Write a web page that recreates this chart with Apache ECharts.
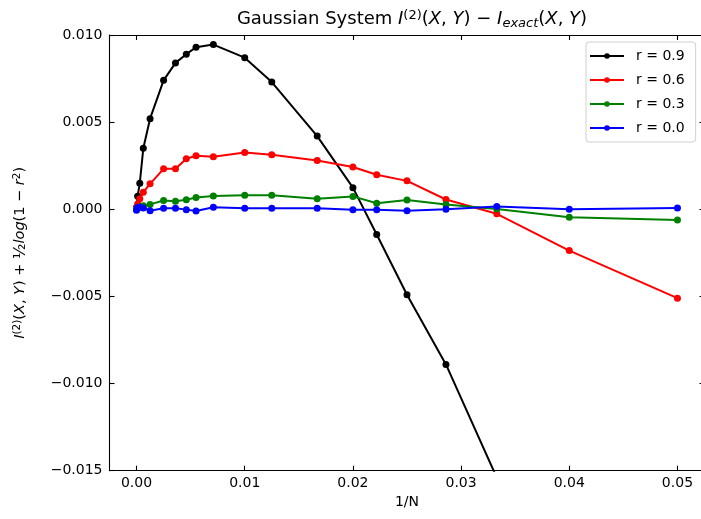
<!DOCTYPE html>
<html>
<head>
<meta charset="utf-8">
<script src="https://cdn.jsdelivr.net/npm/echarts@6/dist/echarts.min.js"></script>
<style>
html,body{margin:0;padding:0;background:#fff;}
#chart{width:701px;height:519px;}
</style>
</head>
<body>
<div id="chart"></div>
<script>
// 1/N values
var xVals = [0, 0.0001, 0.0003, 0.000625, 0.00125, 0.0025, 0.0036, 0.0046, 0.0055, 0.0071, 0.01, 0.0125, 0.0167, 0.02, 0.0222, 0.025, 0.0286, 0.0333, 0.04, 0.05];
var r09 = [0.0001, 0.00075, 0.0015, 0.0035, 0.0052, 0.0074, 0.0084, 0.0089, 0.0093, 0.00945, 0.0087, 0.0073, 0.0042, 0.00124, -0.00145, -0.0049, -0.0089, -0.0154, -0.026, -0.042];
var r06 = [0.0001, 0.0003, 0.0006, 0.00098, 0.00146, 0.00232, 0.00232, 0.0029, 0.00307, 0.00301, 0.00326, 0.00313, 0.0028, 0.00243, 0.00198, 0.00163, 0.00056, -0.00026, -0.00237, -0.0051];
var r03 = [0.0, 0.0001, 0.00015, 0.0002, 0.00028, 0.0005, 0.00046, 0.00055, 0.00068, 0.00076, 0.0008, 0.00081, 0.0006, 0.00074, 0.00035, 0.00053, 0.00027, 0.00002, -0.00046, -0.00061];
var r00 = [-0.00005, 0.0001, 0.00012, 0.00008, -0.00008, 0.00006, 0.00006, -0.00002, -0.0001, 0.00012, 0.00006, 0.00006, 0.00006, -0.00002, -0.00002, -0.00008, 0.0, 0.00016, 0.0, 0.00008];
var seriesNames = ['r = 0.9', 'r = 0.6', 'r = 0.3', 'r = 0.0'];
var seriesColors = ['#000000', '#ff0000', '#008000', '#0000ff'];
var xTicks = [0, 0.01, 0.02, 0.03, 0.04, 0.05];
var yTicks = [-0.015, -0.01, -0.005, 0, 0.005, 0.01];

var FONT = 'DejaVu Sans';
function pairs(ys){ return xVals.map(function(x,i){ return [x, ys[i]]; }); }
var allY = [r09, r06, r03, r00];

var chart = echarts.init(document.getElementById('chart'), null, {renderer:'canvas'});
var axisLineStyle = {color:'#000', width:1.1};
var tickStyle = {show:true, inside:true, length:5, lineStyle:{color:'#000', width:1.1}};

var mathRich = {
  n:{fontFamily:FONT, fontSize:18, color:'#000'},
  i:{fontFamily:FONT, fontSize:18, fontStyle:'italic', color:'#000'},
  sup:{fontFamily:FONT, fontSize:13, color:'#000', verticalAlign:'top', padding:[0,0,8,0]},
  sub:{fontFamily:FONT, fontSize:13, fontStyle:'italic', color:'#000', verticalAlign:'bottom', padding:[6,0,0,0]}
};
var yRich = {
  n:{fontFamily:FONT, fontSize:14.5, color:'#000'},
  i:{fontFamily:FONT, fontSize:14.5, fontStyle:'italic', color:'#000'},
  sup:{fontFamily:FONT, fontSize:10.5, color:'#000', verticalAlign:'top', padding:[0,0,7,0]},
  frac:{fontFamily:FONT, fontSize:16, color:'#000'}
};

chart.setOption({
  animation:false,
  backgroundColor:'#fff',
  title:{
    text:'{n|Gaussian System }{i|I}{sup|(2)}{n|(}{i|X}{n|, }{i|Y}{n|) − }{i|I}{sub|exact}{n|(}{i|X}{n|, }{i|Y}{n|)}',
    left:407, top:4, textAlign:'center',
    textStyle:{rich:mathRich, fontFamily:FONT, fontSize:18, fontWeight:'normal'}
  },
  legend:{
    orient:'vertical', left:586, top:42,
    itemWidth:34, itemHeight:7, itemGap:10,
    padding:[7,11,7,3],
    backgroundColor:'#fff', borderColor:'#d0d0d0', borderWidth:1, borderRadius:3,
    textStyle:{fontFamily:FONT, fontSize:14, color:'#000', padding:[0,0,0,7]},
    data:seriesNames
  },
  grid:{left:109.5, right:-3.5, top:35, bottom:48.3, outerBoundsMode:'none', containLabel:false},
  xAxis:[{
    type:'value', min:-0.0025, max:0.0525, position:'bottom',
    name:'1/N', nameLocation:'middle', nameGap:25,
    nameTextStyle:{fontFamily:FONT, fontSize:14, color:'#000'},
    axisLine:{show:true, onZero:false, lineStyle:axisLineStyle},
    axisTick:Object.assign({customValues:xTicks}, tickStyle),
    axisLabel:{customValues:xTicks, fontFamily:FONT, fontSize:14, color:'#000', margin:6,
      formatter:function(v){ return v.toFixed(2); }},
    splitLine:{show:false}
  },{
    type:'value', min:-0.0025, max:0.0525, position:'top',
    axisLine:{show:true, onZero:false, lineStyle:axisLineStyle},
    axisTick:Object.assign({customValues:xTicks}, tickStyle),
    axisLabel:{show:false}, splitLine:{show:false}
  }],
  yAxis:[{
    type:'value', min:-0.015, max:0.010, position:'left',
    name:'{i|I}{sup|(2)}{n|(}{i|X}{n|, }{i|Y}{n|) + }{frac|½}{i|log}{n|(1 − }{i|r}{sup|2}{n|)}',
    nameLocation:'middle', nameGap:80, nameRotate:90,
    nameTextStyle:{rich:yRich, fontFamily:FONT, fontSize:14.5, color:'#000'},
    axisLine:{show:true, onZero:false, lineStyle:axisLineStyle},
    axisTick:Object.assign({customValues:yTicks}, tickStyle),
    axisLabel:{customValues:yTicks, fontFamily:FONT, fontSize:14, color:'#000', margin:7,
      formatter:function(v){ var s = Math.abs(v) < 1e-12 ? '0.000' : v.toFixed(3); return s.replace('-', '−'); }},
    splitLine:{show:false}
  },{
    type:'value', min:-0.015, max:0.010, position:'right',
    axisLine:{show:true, onZero:false, lineStyle:axisLineStyle},
    axisTick:Object.assign({customValues:yTicks}, tickStyle),
    axisLabel:{show:false}, splitLine:{show:false}
  }],
  series: seriesNames.map(function(name, k){
    return {
      name:name, type:'line', xAxisIndex:0, yAxisIndex:0,
      data:pairs(allY[k]),
      symbol:'circle', symbolSize:7, showSymbol:true,
      lineStyle:{color:seriesColors[k], width:2},
      itemStyle:{color:seriesColors[k]},
      clip:true, z:2+k
    };
  })
});
</script>
</body>
</html>
